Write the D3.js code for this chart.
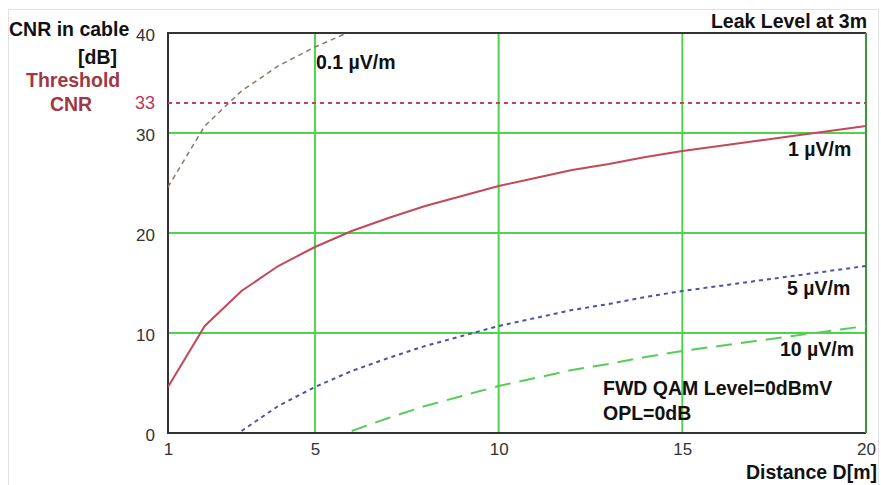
<!DOCTYPE html>
<html><head><meta charset="utf-8">
<script src="https://cdn.jsdelivr.net/npm/d3@7"></script>
<style>
html,body{margin:0;padding:0;background:#fff;}
svg{display:block;}
text{font-family:"Liberation Sans",Arial,sans-serif;}
</style></head>
<body>
<svg id="chart" width="881" height="485"></svg>
<script>
// ---- data ----
const distances = [1,2,3,4,5,6,7,8,9,10,11,12,13,14,15,16,17,18,19,20];
const cnr01uV = [24.6,30.7,34.2,36.7,38.6,40.2];          // 0.1 µV/m (D = 1..6)
const cnr1uV  = [4.6,10.7,14.2,16.7,18.6,20.2,21.5,22.7,23.7,24.7,25.5,26.3,26.9,27.6,28.2,28.7,29.2,29.7,30.2,30.7];
const cnr5uV  = [0.2,2.7,4.6,6.2,7.5,8.7,9.7,10.7,11.5,12.3,12.9,13.6,14.2,14.7,15.2,15.7,16.2,16.7]; // D = 3..20
const cnr10uV = [0.2,1.5,2.7,3.7,4.7,5.5,6.3,6.9,7.6,8.2,8.7,9.2,9.7,10.2,10.7]; // D = 6..20
const thresholdCNR = 33;
const xTicks = [1,5,10,15,20];
const yTicks = [0,10,20,30,40];
const xGrid = [5,10,15,20];
const yGrid = [10,20,30];

const svg = d3.select("#chart");
const x = d3.scaleLinear().domain([1,20]).range([168,866]);
const y = d3.scaleLinear().domain([0,40]).range([433,33]);

// outer light frame
svg.append("path").attr("d","M8.5,485 V9.5 H878.5 V485").attr("fill","none").attr("stroke","#e2e2e2").attr("stroke-width",1);

// clip
svg.append("clipPath").attr("id","plot").append("rect")
  .attr("x",x(1)).attr("y",y(40)).attr("width",x(20)-x(1)).attr("height",y(0)-y(40));

// grid
const gridColor = "#4cd44c";
svg.selectAll(".vg").data(xGrid).enter().append("line")
  .attr("x1",d=>x(d)).attr("x2",d=>x(d)).attr("y1",y(40)).attr("y2",y(0))
  .attr("stroke",gridColor).attr("stroke-width",2);
svg.selectAll(".hg").data(yGrid).enter().append("line")
  .attr("x1",x(1)).attr("x2",x(20)).attr("y1",d=>y(d)).attr("y2",d=>y(d))
  .attr("stroke",gridColor).attr("stroke-width",2);

// frame: top, left, bottom dark
svg.append("path")
  .attr("d",`M${x(20)},${y(40)} H${x(1)} V${y(0)} H${x(20)}`)
  .attr("fill","none").attr("stroke","#333").attr("stroke-width",2);
svg.append("line").attr("x1",x(20)).attr("x2",x(20)).attr("y1",y(40)).attr("y2",y(0))
  .attr("stroke","#3a9a3a").attr("stroke-width",2);

// threshold
svg.append("line").attr("x1",x(1)).attr("x2",x(20)).attr("y1",y(thresholdCNR)).attr("y2",y(thresholdCNR))
  .attr("stroke","#c8405e").attr("stroke-width",2).attr("stroke-dasharray","4,4");

const line = d3.line().x(d=>x(d[0])).y(d=>y(d[1]));
const g = svg.append("g").attr("clip-path","url(#plot)");
function series(dStart, vals){ return vals.map((v,i)=>[distances[dStart-1+i], v]); }

g.append("path").datum(series(1,cnr01uV)).attr("d",line)
  .attr("fill","none").attr("stroke","#8a7a68").attr("stroke-width",1.5).attr("stroke-dasharray","5,4");
g.append("path").datum(series(1,cnr1uV)).attr("d",line)
  .attr("fill","none").attr("stroke","#c44858").attr("stroke-width",2);
g.append("path").datum(series(3,cnr5uV)).attr("d",line)
  .attr("fill","none").attr("stroke","#5050a8").attr("stroke-width",2).attr("stroke-dasharray","4,4");
g.append("path").datum(series(6,cnr10uV)).attr("d",line)
  .attr("fill","none").attr("stroke","#58cc58").attr("stroke-width",2).attr("stroke-dasharray","16,9");

// axes (tick labels only)
const tickFont = "17px";
const yAxis = d3.axisLeft(y).tickValues(yTicks).tickSize(0).tickPadding(0).tickFormat(d3.format("d"));
const ya = svg.append("g").attr("transform",`translate(155,2)`).call(yAxis);
ya.select(".domain").remove();
ya.selectAll("text").attr("font-family","Liberation Sans, Arial, sans-serif").attr("font-size",tickFont).attr("fill","#333");

const xAxis = d3.axisBottom(x).tickValues(xTicks).tickSize(0).tickPadding(0).tickFormat(d3.format("d"));
const xa = svg.append("g").attr("transform",`translate(0,${y(0)+10})`).call(xAxis);
xa.select(".domain").remove();
xa.selectAll("text").attr("font-family","Liberation Sans, Arial, sans-serif").attr("font-size",tickFont).attr("fill","#333");

// threshold tick
svg.append("text").attr("x",155).attr("y",y(thresholdCNR)+6).attr("text-anchor","end")
  .attr("font-size","18px").attr("fill","#b83a55").text(thresholdCNR);

// labels
function label(t,xp,yp,opts={}){
  return svg.append("text").attr("x",xp).attr("y",yp).attr("font-size",opts.size||"19.5px")
    .attr("font-weight","bold").attr("fill",opts.fill||"#111")
    .attr("text-anchor",opts.anchor||"start").text(t);
}
label("CNR in cable",9,36);
label("[dB]",117,64,{anchor:"end"});
label("Threshold",26,87,{fill:"#a03844"});
label("CNR",71,111,{fill:"#a03844",anchor:"middle"});
label("Leak Level at 3m",867,28,{anchor:"end"});
label("Distance D[m]",877,479,{anchor:"end"});
label("0.1 \u00b5V/m",316,69);
label("1 \u00b5V/m",788,156);
label("5 \u00b5V/m",787,295);
label("10 \u00b5V/m",780,356);
label("FWD QAM Level=0dBmV",603,395);
label("OPL=0dB",603,420);
</script>
</body></html>
